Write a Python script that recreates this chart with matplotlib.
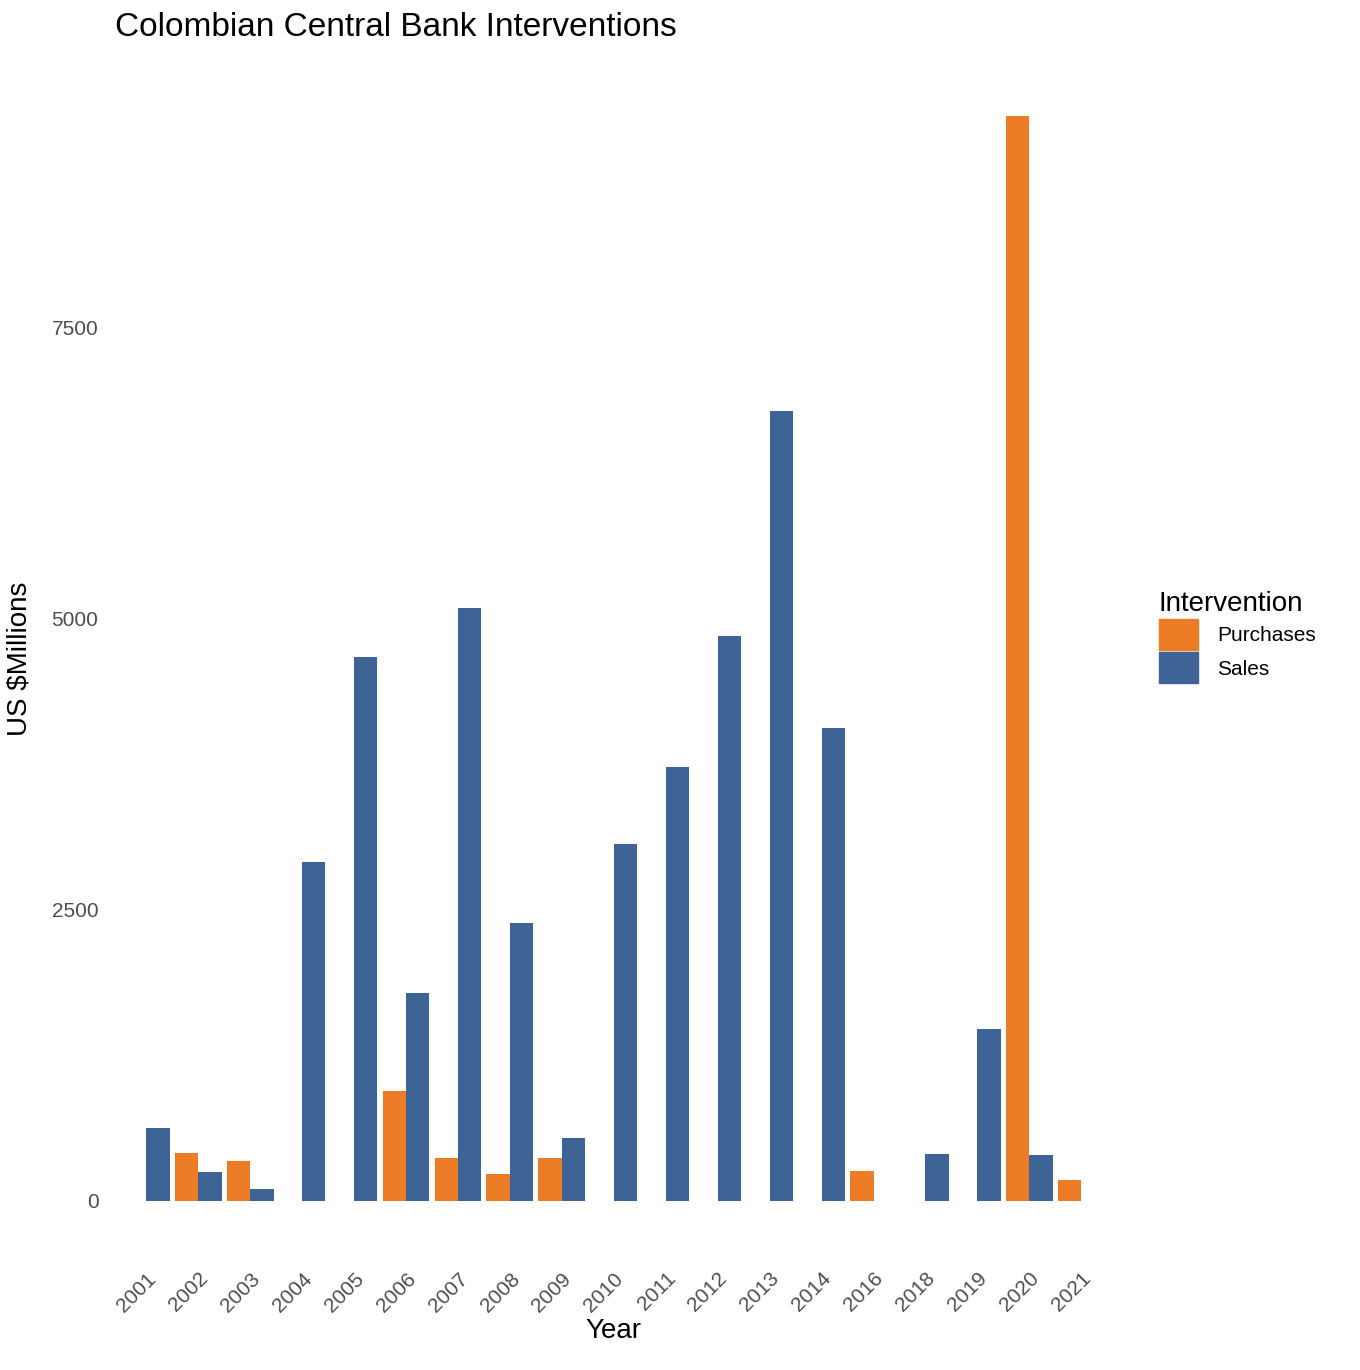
import matplotlib
matplotlib.use("Agg")
import matplotlib.pyplot as plt
from matplotlib.patches import Patch
import numpy as np

plt.rcParams['font.family'] = ['Liberation Sans', 'DejaVu Sans']

years = ["2001","2002","2003","2004","2005","2006","2007","2008","2009","2010",
         "2011","2012","2013","2014","2016","2018","2019","2020","2021"]
purchases = [np.nan, 412, 343, np.nan, np.nan, 944, 369, 232, 369, np.nan,
             np.nan, np.nan, np.nan, np.nan, 258, np.nan, np.nan, 9313, 180]
sales = [627, 250, 103, 2910, 4670, 1785, 5090, 2386, 541, 3064,
         3725, 4850, 6781, 4060, np.nan, 403, 1476, 395, np.nan]

c_p = "#EC7C26"
c_s = "#3E6496"

fig = plt.figure(figsize=(13.6, 13.7), dpi=100)
ax = fig.add_axes([0.0846, 0.0839, 0.818 - 0.0846, 0.9547 - 0.0839])
x = np.arange(len(years))
w = 0.45
ax.bar(x - w/2, np.nan_to_num(purchases), width=w, color=c_p)
ax.bar(x + w/2, np.nan_to_num(sales), width=w, color=c_s)
ax.set_xlim(-0.6, len(years) - 0.4)
ax.set_ylim(-466, 9779)
ax.set_yticks([0, 2500, 5000, 7500])
ax.set_yticklabels(["0", "2500", "5000", "7500"])
ax.set_xticks(x)
ax.set_xticklabels(years, rotation=45, ha='right', rotation_mode='anchor')
for s in ax.spines.values():
    s.set_visible(False)
ax.tick_params(length=0, labelsize=15, labelcolor='#4d4d4d')
ax.tick_params(axis='x', pad=10)
ax.tick_params(axis='y', pad=12)
ax.set_xlabel("Year", fontsize=20, labelpad=2)
ax.set_ylabel("US $Millions", fontsize=20, labelpad=14)
fig.text(115/1360, 1 - 28/1370, "Colombian Central Bank Interventions",
         fontsize=24, ha='left', va='center')

handles = [Patch(color=c_p, label="Purchases"), Patch(color=c_s, label="Sales")]
leg = fig.legend(handles=handles, title="Intervention", loc='upper left',
                 bbox_to_anchor=(0.846, 0.575), frameon=False, fontsize=15,
                 title_fontsize=20, handlelength=1.9, handleheight=1.9,
                 labelspacing=0.12, handletextpad=0.9, borderaxespad=0)
leg._legend_box.align = "left"

fig.savefig("out.png", dpi=100, facecolor='white')
